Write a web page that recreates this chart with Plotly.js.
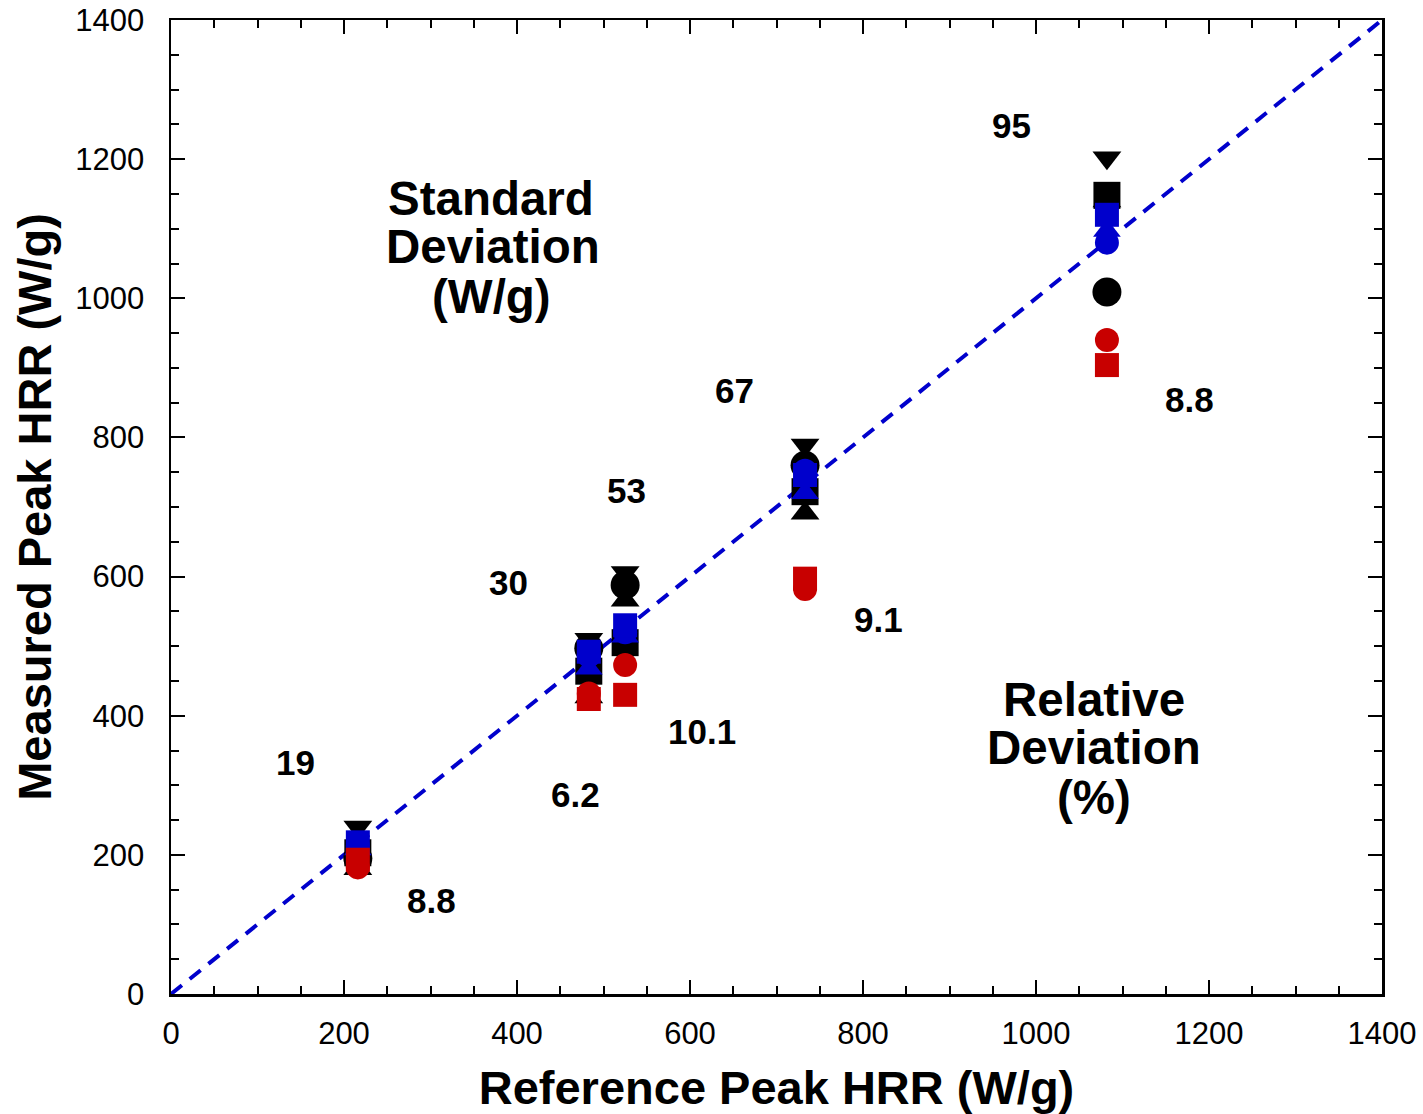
<!DOCTYPE html>
<html>
<head>
<meta charset="utf-8">
<script src="https://cdn.plot.ly/plotly-3.0.1.min.js"></script>
<style>
  html, body { margin: 0; padding: 0; background: #fff; }
  #chart { width: 1423px; height: 1114px; }
</style>
</head>
<body>
<div id="chart"></div>
<script>
// Reference peak heat release rate of each material (W/g)
const refHRR = [216, 483, 525, 733, 1082];

// Measured peak HRR for each laboratory / instrument (W/g)
const blackSquare  = [203, 464, 505, 722, 1148];
const blackCircle  = [195, 497, 588, 760, 1009];
const blackTriUp   = [180, 427, 566, 691, 1140];
const blackTriDown = [240, 510, 606, 789, 1202];
const blackDiamond = [207, 466, 492, 730, 1130];
const blueTriUp    = [208, 468, 514, 720, 1097];
const blueCircle   = [213, 486, 520, 752, 1080];
const blueSquare   = [218, 492, 530, 746, 1120];
const redCircle    = [182, 432, 473, 582, 940];
const redSquare    = [193, 424, 430, 597, 904];

// Line of equality
const equalityLine = [0, 1400];

// Per-material statistics
const stdDevLabels = ['19', '30', '53', '67', '95'];
const relDevLabels = ['8.8', '6.2', '10.1', '9.1', '8.8'];

const FONT = 'Liberation Sans, Arial, Helvetica, sans-serif';
const BLACK = '#000000';
const BLUE = '#0000cc';
const RED = '#c80000';

function series(y, symbol, color, size) {
  return {
    type: 'scatter', mode: 'markers', x: refHRR, y: y,
    marker: { symbol: symbol, color: color, size: size, line: { width: 0 } },
    showlegend: false, hoverinfo: 'x+y'
  };
}

const traces = [
  {
    type: 'scatter', mode: 'lines', x: equalityLine, y: equalityLine,
    line: { color: BLUE, width: 4, dash: '14px,10px' },
    showlegend: false, hoverinfo: 'skip'
  },
  series(blackTriDown, 'triangle-down', BLACK, 25),
  series(blackTriUp, 'triangle-up', BLACK, 25),
  series(blackSquare, 'square', BLACK, 27),
  series(blackDiamond, 'diamond', BLACK, 20),
  series(blackCircle, 'circle', BLACK, 29),
  series(blueTriUp, 'triangle-up', BLUE, 24),
  series(blueCircle, 'circle', BLUE, 24),
  series(blueSquare, 'square', BLUE, 24),
  series(redCircle, 'circle', RED, 24),
  series(redSquare, 'square', RED, 24)
];

// Label placement (data units) relative to each material's column
const stdPos = [[144, 333], [390, 592], [527, 724], [652, 868], [972, 1249]];
const relPos = [[301, 135], [468, 287], [614, 378], [818, 538], [1178, 854]];

const annotations = [];
const numFont = { family: FONT, size: 35, color: BLACK, weight: 'bold' };
stdDevLabels.forEach((t, i) => annotations.push({
  x: stdPos[i][0], y: stdPos[i][1], text: t, showarrow: false, font: numFont
}));
relDevLabels.forEach((t, i) => annotations.push({
  x: relPos[i][0], y: relPos[i][1], text: t, showarrow: false, font: numFont
}));

const headFont = { family: FONT, size: 47.5, color: BLACK, weight: 'bold' };
[['Standard', 370, 1144], ['Deviation', 372, 1074], ['(W/g)', 371, 1003],
 ['Relative', 1067, 423], ['Deviation', 1067, 354], ['(%)', 1067, 282]]
  .forEach(([t, x, y]) => annotations.push({
    x: x, y: y, text: t, showarrow: false, font: headFont
  }));

const axisCommon = {
  range: [0, 1400],
  dtick: 200,
  tick0: 0,
  ticks: 'inside',
  ticklen: 14,
  tickwidth: 2,
  tickcolor: BLACK,
  minor: { dtick: 50, ticks: 'inside', ticklen: 8, tickwidth: 2, tickcolor: BLACK },
  showline: true,
  linecolor: BLACK,
  linewidth: 2.5,
  mirror: 'allticks',
  showgrid: false,
  zeroline: false,
  tickfont: { family: FONT, size: 31, color: BLACK }
};

const layout = {
  width: 1423,
  height: 1114,
  margin: { l: 171, r: 41, t: 20, b: 120 },
  paper_bgcolor: '#ffffff',
  plot_bgcolor: '#ffffff',
  xaxis: Object.assign({}, axisCommon, {
    ticklabelstandoff: 10,
    title: { text: 'Reference Peak HRR (W/g)', standoff: 22,
      font: { family: FONT, size: 47, color: BLACK, weight: 'bold' } }
  }),
  yaxis: Object.assign({}, axisCommon, {
    ticklabelstandoff: 18,
    title: { text: 'Measured Peak HRR (W/g)', standoff: 9,
      font: { family: FONT, size: 47, color: BLACK, weight: 'bold' } }
  }),
  annotations: annotations
};

Plotly.newPlot('chart', traces, layout, { displayModeBar: false, staticPlot: true });
</script>
</body>
</html>
